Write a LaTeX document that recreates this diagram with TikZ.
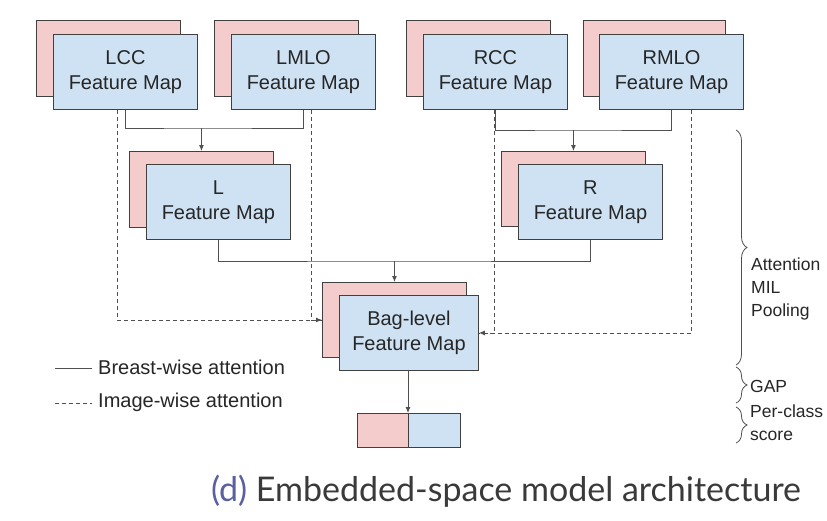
\documentclass[tikz,border=0pt]{standalone}
\usepackage{fontspec}
\setmainfont{Liberation Sans}
\newfontfamily\arialf{Liberation Sans}
\newfontfamily\capfont{Lato}
\usetikzlibrary{arrows.meta,decorations.pathreplacing,calc}
\definecolor{pinkf}{HTML}{F4CCCC}
\definecolor{bluef}{HTML}{CFE2F3}
\definecolor{edgec}{HTML}{404040}
\definecolor{connc}{HTML}{505050}
\definecolor{dcol}{RGB}{90,96,160}
\definecolor{capc}{HTML}{3A3A3A}
\begin{document}
\begin{tikzpicture}[x=1pt,y=-1pt,
  backbox/.style={draw=edgec, line width=0.9pt, fill=pinkf, anchor=north west, inner sep=0pt},
  frontbox/.style={draw=edgec, line width=0.9pt, fill=bluef, anchor=north west, inner sep=0pt,
     align=center, text=black!85, font=\arialf\fontsize{20}{25}\selectfont},
  bigbox/.style={minimum width=144pt, minimum height=75pt},
  conn/.style={draw=connc, line width=0.9pt},
  dconn/.style={draw=connc, line width=0.9pt, dash pattern=on 4pt off 3pt},
  arr/.style={-{Latex[length=6pt,width=5pt]}},
  legtext/.style={anchor=west, inner sep=0pt, text=black!85, font=\arialf\fontsize{20}{23}\selectfont},
  bracetext/.style={anchor=west, inner sep=0pt, align=left, text=black!85, font=\arialf\fontsize{17.5}{23}\selectfont},
  brc/.style={draw=connc, line width=0.8pt, decorate, decoration={brace, amplitude=11pt}}
]
\useasboundingbox (0,0) rectangle (827,520);
\clip (0,0) rectangle (827,520);
\fill[white] (0,0) rectangle (827,520);

% top row
\node[backbox, bigbox, minimum height=76pt] (lccb) at (36,20) {};
\node[frontbox, bigbox] (lcc) at (53,34) {LCC\\Feature Map};
\node[backbox, bigbox, minimum height=76pt] (lmlob) at (214,20) {};
\node[frontbox, bigbox] (lmlo) at (231,34) {LMLO\\Feature Map};
\node[backbox, bigbox, minimum height=76pt] (rccb) at (406,20) {};
\node[frontbox, bigbox] (rcc) at (423,34) {RCC\\Feature Map};
\node[backbox, bigbox, minimum height=76pt, minimum width=142pt] (rmlob) at (583,20) {};
\node[frontbox, bigbox] (rmlo) at (599,34) {RMLO\\Feature Map};

% middle row
\node[backbox, bigbox, minimum height=76pt] (lb) at (129,151) {};
\node[frontbox, bigbox] (l) at (146,164) {L\\Feature Map};
\node[backbox, bigbox] (rb) at (501,151) {};
\node[frontbox, bigbox] (r) at (518,164) {R\\Feature Map};

% bag level
\node[backbox, bigbox] (bagb) at (322,282) {};
\node[frontbox, minimum width=139pt, minimum height=75pt] (bag) at (339,295) {Bag-level\\Feature Map};

% output
\node[backbox, minimum width=51pt, minimum height=34pt] (outp) at (357,413) {};
\node[draw=edgec, line width=0.9pt, fill=bluef, anchor=north west, inner sep=0pt, minimum width=52pt, minimum height=34pt] (outb) at (408,413) {};

% dashed (image-wise) connectors
\draw[dconn] ([xshift=8pt]lmlo.south) |- (bagb.west);
\draw[dconn, arr] ([xshift=-8pt]lcc.south) |- (bagb.west);
\draw[dconn] ([xshift=-1pt]rcc.south) |- (bag.east);
\draw[dconn, arr] ([xshift=20pt]rmlo.south) |- (bag.east);

% solid (breast-wise) connectors
\coordinate (jl) at (lb.north |- 0,128);
\coordinate (jr) at (rb.north |- 0,130);
\coordinate (jb) at (bagb.north |- 0,261);
\draw[conn] (lcc.south) |- (jl) -| (lmlo.south);
\draw[conn, arr] (jl) -- (lb.north);
\draw[conn] (rcc.south) |- (jr) -| (rmlo.south);
\draw[conn, arr] (jr) -- (rb.north);
\draw[conn] (l.south) |- (jb) -| (r.south);
\draw[conn, arr] (jb) -- (bagb.north);
\draw[conn, arr] (bag.south -| outb.west) -- (outb.north west);

% legend
\coordinate (s1) at (55,368); \coordinate (s2) at (92,368);
\coordinate (d1) at (55,403); \coordinate (d2) at (92,403);
\draw[conn] (s1) -- (s2);
\draw[dconn] (d1) -- (d2);
\node[legtext] (lg1) at (98,367) {Breast-wise attention};
\node[legtext] (lg2) at (98,402) {Image-wise attention};

% braces
\coordinate (b1t) at (736,130); \coordinate (b1b) at (736,365);
\coordinate (b2t) at (736,367); \coordinate (b2b) at (736,403);
\coordinate (b3t) at (736,407); \coordinate (b3b) at (736,443);
\draw[brc] (b1t) -- (b1b);
\draw[brc] (b2t) -- (b2b);
\draw[brc] (b3t) -- (b3b);
\node[bracetext] (t1) at (751,289) {Attention\\MIL\\Pooling};
\node[bracetext] (t2) at (750,386) {GAP};
\node[bracetext] (t3) at (750,423) {Per-class\\score};

% caption
\node[anchor=base, inner sep=0pt, text=capc, font=\capfont\fontsize{34}{34}\selectfont] (cap) at (506,501)
  {\textcolor{dcol}{(d)} Embedded-space model architecture};
\end{tikzpicture}
\end{document}
